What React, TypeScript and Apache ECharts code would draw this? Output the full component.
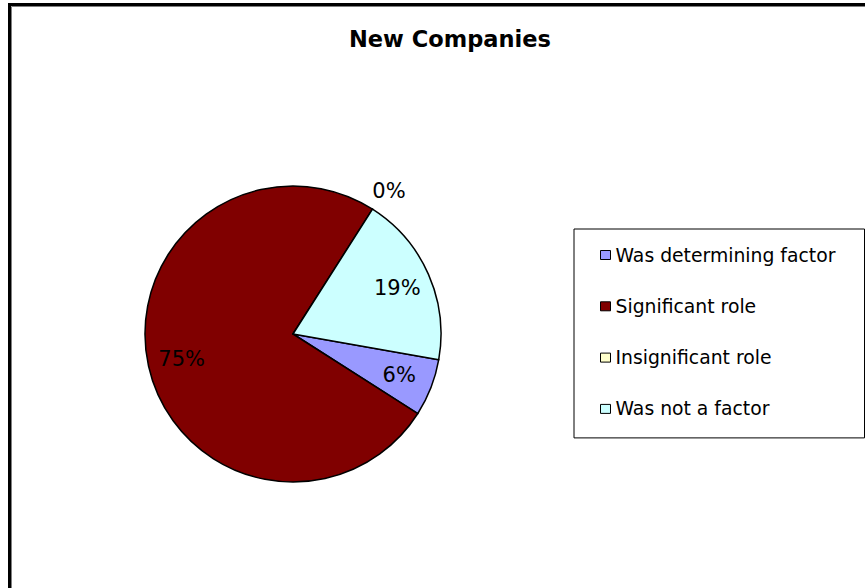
import React, { useEffect, useRef } from "react";
import * as echarts from "echarts";

const titleText = "New Companies";
const categories = ["Was determining factor", "Significant role", "Insignificant role", "Was not a factor"];
const values = [1, 12, 0, 3];
const colors = ["#9999FF", "#800000", "#FFFFCC", "#CCFFFF"];

const FONT = "DejaVu Sans";

export default function App() {
  const ref = useRef<HTMLDivElement>(null);
  useEffect(() => {
    const chart = echarts.init(ref.current!, null, { renderer: "svg" });
    const center = [293, 334];
    const R = 148;
    chart.setOption({
      animation: false,
      backgroundColor: "#ffffff",
      title: {
        text: titleText,
        left: 344,
        top: 22,
        textStyle: { fontFamily: FONT, fontWeight: "bold", fontSize: 22.5, color: "#000" },
      },
      legend: {
        orient: "vertical",
        left: 574,
        top: 229,
        data: categories,
        icon: "rect",
        itemWidth: 10,
        itemHeight: 9,
        itemGap: 31.3,
        padding: [16, 9, 19, 26],
        borderColor: "#000",
        borderWidth: 1,
        backgroundColor: "#fff",
        itemStyle: { borderColor: "#000", borderWidth: 1 },
        textStyle: { fontFamily: FONT, fontSize: 18.8, lineHeight: 20, color: "#000", width: 240 },
      },
      graphic: [
        {
          type: "rect",
          shape: { x: 9.5, y: 4.5, width: 2000, height: 2000 },
          style: { fill: "none", stroke: "#000", lineWidth: 3 },
          silent: true,
        },
        {
          type: "rect",
          shape: { x: 11.5, y: 6.5, width: 2000, height: 2000 },
          style: { fill: "none", stroke: "#808080", lineWidth: 1 },
          silent: true,
        },
      ],
      series: [
        {
          type: "pie",
          center,
          radius: R,
          startAngle: -10,
          clockwise: true,
          label: { show: false },
          labelLine: { show: false },
          itemStyle: { borderColor: "#000", borderWidth: 1.5 },
          data: categories.map((name, i) => ({ name, value: values[i], itemStyle: { color: colors[i] } })),
        },
        {
          type: "pie",
          center,
          radius: [R / 2, R],
          startAngle: -10,
          clockwise: true,
          silent: true,
          percentPrecision: 0,
          itemStyle: { color: "rgba(0,0,0,0)", borderWidth: 0 },
          label: {
            show: true,
            position: "inside",
            formatter: "{d}%",
            fontFamily: FONT,
            fontSize: 21,
            color: "#000",
          },
          labelLine: { show: false },
          data: categories.map((name, i) =>
            values[i] === 0
              ? {
                  name,
                  value: values[i],
                  label: { position: "outside", distanceToLabelLine: -12 },
                  labelLine: { show: false, length: 22, length2: 0 },
                }
              : { name, value: values[i] }
          ),
        },
      ],
    });
    return () => chart.dispose();
  }, []);
  return (
    <div
      ref={ref}
      style={{ position: "absolute", left: 0, top: 0, width: 865, height: 588 }}
    />
  );
}
